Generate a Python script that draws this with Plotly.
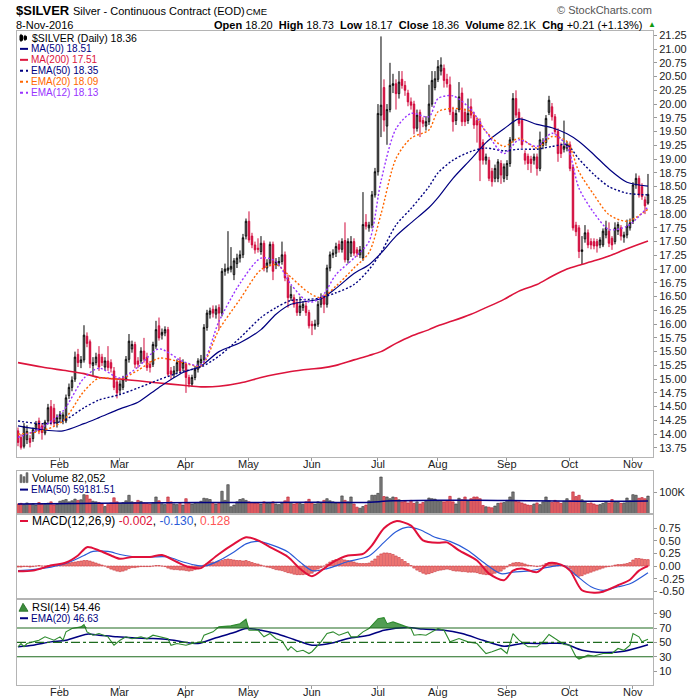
import pandas as pd
import plotly.graph_objects as go

# ---------------- data ----------------
holidays = ['2016-01-18', '2016-02-15', '2016-03-25', '2016-05-30', '2016-07-04', '2016-09-05']
dates = pd.bdate_range('2016-01-11', '2016-11-08', freq='C', holidays=holidays)

opens = [
    14.06, 13.94, 13.78, 13.90, 13.92, 13.92, 14.10, 14.24, 14.15, 14.02, 14.24, 14.50, 14.47, 14.20,  # Jan
    14.28, 14.25, 14.24, 14.70, 14.85, 15.00, 15.45, 15.30, 15.35, 15.78, 15.68, 15.25, 15.30, 15.45, 15.40, 15.22, 15.33, 15.30, 15.15, 14.95,  # Feb
    14.80, 14.85, 15.00, 15.36, 15.55, 15.63, 15.33, 15.33, 15.51, 15.40, 15.27, 15.27, 15.60, 15.97, 15.80, 15.84, 15.90, 15.15, 15.09, 15.15, 15.33, 15.20,  # Mar
    15.27, 15.03, 14.91, 15.03, 15.18, 15.30, 15.36, 15.94, 16.18, 16.27, 16.18, 16.30, 16.20, 16.96, 16.98, 17.00, 16.90, 17.10, 17.20, 17.26, 17.60,  # Apr
    17.87, 17.60, 17.44, 17.38, 17.32, 17.47, 17.02, 17.11, 17.45, 17.08, 17.11, 17.14, 17.26, 16.84, 16.48, 16.48, 16.39, 16.21, 16.30, 16.33, 16.21,  # May
    16.00, 15.97, 16.00, 16.36, 16.48, 16.36, 17.02, 17.26, 17.29, 17.45, 17.36, 17.52, 17.17, 17.29, 17.50, 17.35, 17.26, 17.20, 17.85, 17.75, 17.80, 18.35,  # Jun
    18.77, 19.80, 20.30, 19.60, 19.90, 20.34, 20.37, 20.19, 20.45, 20.34, 20.20, 20.04, 20.00, 19.56, 19.85, 19.70, 19.60, 19.68, 20.00, 20.30,  # Jul
    20.45, 20.60, 20.65, 20.45, 20.35, 19.85, 19.70, 19.90, 20.20, 19.85, 19.70, 19.95, 19.80, 19.70, 19.68, 19.30, 18.98, 18.98, 18.78, 18.65, 18.65, 18.92, 18.65,  # Aug
    18.70, 18.92, 19.35, 20.10, 19.85, 19.70, 19.10, 19.05, 19.00, 18.98, 19.04, 18.83, 19.25, 19.30, 19.85, 19.95, 19.77, 19.50, 19.25, 19.18, 19.20,  # Sep
    19.26, 18.85, 17.80, 17.75, 17.32, 17.55, 17.66, 17.50, 17.50, 17.50, 17.44, 17.44, 17.62, 17.69, 17.56, 17.50, 17.69, 17.75, 17.58, 17.62, 17.75,  # Oct
    17.87, 18.53, 18.65, 18.50, 18.26, 18.20,  # Nov
]
highs = [
    14.12, 14.00, 14.20, 14.16, 13.98, 14.12, 14.24, 14.30, 14.20, 14.26, 14.55, 14.62, 14.55, 14.36,
    14.42, 14.40, 14.72, 14.92, 15.05, 15.50, 15.55, 15.42, 15.98, 15.85, 15.72, 15.40, 15.48, 15.60, 15.46, 15.40, 15.60, 15.36, 15.22, 15.00,
    14.98, 15.06, 15.42, 15.82, 15.70, 15.68, 15.40, 15.58, 15.75, 15.48, 15.33, 15.68, 16.06, 16.12, 15.92, 15.96, 15.95, 15.22, 15.24, 15.36, 15.40, 15.36,
    15.30, 15.08, 15.08, 15.24, 15.38, 15.44, 16.00, 16.26, 16.30, 16.34, 16.34, 16.36, 17.02, 17.10, 17.69, 17.40, 17.20, 17.28, 17.34, 17.64, 17.92,
    18.05, 17.66, 17.50, 17.56, 17.60, 17.52, 17.18, 17.50, 17.50, 17.20, 17.22, 17.50, 17.32, 16.90, 16.70, 16.54, 16.45, 16.50, 16.42, 16.40, 16.26,
    16.06, 16.08, 16.42, 16.56, 16.54, 17.08, 17.32, 17.36, 17.48, 17.52, 17.56, 17.85, 17.56, 17.60, 17.56, 17.40, 17.42, 18.40, 18.00, 17.86, 18.42, 18.84,
    20.00, 21.23, 20.45, 20.00, 20.75, 20.55, 20.45, 20.60, 20.60, 20.42, 20.26, 20.12, 20.06, 19.90, 19.90, 19.76, 19.78, 20.35, 20.60, 20.60,
    20.80, 20.85, 20.72, 20.55, 20.50, 19.95, 19.90, 20.40, 20.30, 19.92, 20.10, 20.10, 19.86, 19.76, 19.74, 19.36, 19.10, 19.04, 18.84, 18.90, 19.00, 18.98, 18.92,
    18.98, 19.40, 20.20, 20.25, 19.92, 19.76, 19.16, 19.10, 19.06, 19.10, 19.10, 19.50, 19.38, 19.80, 20.15, 20.02, 19.82, 19.56, 19.30, 19.70, 19.32,
    19.32, 18.90, 17.86, 17.80, 17.60, 17.80, 17.72, 17.56, 17.56, 17.55, 17.58, 17.74, 17.88, 17.85, 17.60, 17.85, 17.86, 17.80, 17.68, 17.90, 17.92,
    18.58, 18.74, 18.70, 18.56, 18.32, 18.73,
]
lows = [
    13.78, 13.72, 13.74, 13.82, 13.76, 13.86, 14.04, 14.00, 13.90, 13.98, 14.18, 14.16, 14.15, 14.12,
    14.22, 14.18, 14.20, 14.64, 14.78, 14.95, 15.22, 15.20, 15.30, 15.58, 15.20, 15.05, 15.25, 15.15, 15.24, 15.16, 15.15, 15.12, 14.80, 14.65,
    14.72, 14.80, 14.95, 15.30, 15.48, 15.20, 15.20, 15.28, 15.30, 15.15, 15.12, 15.22, 15.55, 15.70, 15.72, 15.78, 15.05, 15.00, 15.02, 15.10, 15.10, 15.14,
    14.75, 14.85, 14.86, 14.98, 15.12, 15.24, 15.30, 15.88, 16.10, 16.12, 16.10, 15.90, 16.14, 16.88, 16.92, 16.94, 16.80, 17.02, 17.12, 17.20, 17.54,
    17.48, 17.38, 17.28, 17.30, 17.26, 16.96, 16.94, 17.05, 16.80, 17.00, 17.05, 17.08, 16.78, 16.30, 16.42, 16.30, 16.15, 16.15, 16.24, 16.15, 15.92,
    15.80, 15.90, 15.95, 16.30, 16.20, 16.30, 16.96, 17.20, 17.22, 17.30, 17.30, 17.12, 17.10, 17.22, 17.24, 17.22, 17.20, 17.15, 17.72, 17.68, 17.74, 18.30,
    18.70, 19.40, 19.50, 19.26, 19.85, 20.20, 19.90, 20.10, 20.28, 20.15, 19.96, 19.90, 19.45, 19.50, 19.40, 19.58, 19.52, 19.62, 19.95, 20.25,
    20.40, 20.52, 20.30, 20.30, 19.80, 19.50, 19.62, 19.85, 19.60, 19.60, 19.64, 19.74, 19.55, 19.30, 18.60, 18.90, 18.90, 18.60, 18.50, 18.58, 18.58, 18.55, 18.58,
    18.62, 18.86, 19.30, 19.75, 19.60, 19.20, 18.90, 18.80, 18.75, 18.90, 18.70, 18.78, 19.18, 19.24, 19.80, 19.70, 19.45, 18.95, 19.02, 19.12, 19.14,
    18.78, 17.70, 17.60, 17.20, 17.08, 17.48, 17.38, 17.36, 17.36, 17.30, 17.38, 17.40, 17.56, 17.40, 17.35, 17.45, 17.62, 17.52, 17.48, 17.56, 17.70,
    17.82, 18.46, 18.30, 18.26, 18.00, 18.17,
]
closes = [
    13.85, 13.76, 14.14, 14.05, 13.85, 14.08, 14.19, 14.06, 14.03, 14.22, 14.48, 14.22, 14.20, 14.30,
    14.36, 14.35, 14.66, 14.85, 14.98, 15.40, 15.30, 15.35, 15.80, 15.65, 15.28, 15.30, 15.40, 15.22, 15.30, 15.33, 15.21, 15.20, 14.85, 14.75,
    14.91, 15.00, 15.36, 15.69, 15.63, 15.27, 15.27, 15.51, 15.36, 15.21, 15.21, 15.63, 15.90, 15.75, 15.85, 15.90, 15.09, 15.09, 15.15, 15.30, 15.15, 15.30,
    15.03, 14.91, 15.03, 15.18, 15.33, 15.36, 15.94, 16.20, 16.24, 16.20, 16.27, 16.20, 16.96, 17.00, 17.02, 17.05, 17.15, 17.20, 17.26, 17.57, 17.87,
    17.53, 17.44, 17.35, 17.36, 17.47, 17.02, 17.11, 17.45, 16.96, 17.14, 17.14, 17.26, 16.84, 16.48, 16.54, 16.36, 16.21, 16.33, 16.36, 16.21, 15.97,
    15.97, 16.00, 16.36, 16.48, 16.36, 17.02, 17.26, 17.29, 17.41, 17.36, 17.50, 17.17, 17.50, 17.50, 17.29, 17.29, 17.35, 17.81, 17.78, 17.80, 18.35, 18.77,
    19.83, 19.98, 19.71, 19.90, 20.34, 20.37, 20.19, 20.40, 20.34, 20.25, 20.04, 19.98, 19.56, 19.80, 19.68, 19.65, 19.68, 20.00, 20.43, 20.46,
    20.68, 20.71, 20.43, 20.37, 19.86, 19.68, 19.83, 20.13, 19.68, 19.68, 19.83, 19.80, 19.62, 19.62, 18.98, 18.98, 19.04, 18.65, 18.59, 18.83, 18.95, 18.71, 18.86,
    18.92, 19.35, 20.10, 19.80, 19.65, 19.26, 18.98, 18.92, 18.92, 19.04, 18.83, 19.35, 19.30, 19.74, 20.07, 19.77, 19.50, 19.10, 19.10, 19.23, 19.26,
    18.83, 17.75, 17.68, 17.32, 17.35, 17.66, 17.44, 17.44, 17.42, 17.42, 17.53, 17.69, 17.75, 17.47, 17.44, 17.75, 17.81, 17.60, 17.62, 17.78, 17.84,
    18.53, 18.65, 18.35, 18.32, 18.15, 18.36,
]

# volume in thousands of contracts
volume_k = [
    45, 48, 42, 50, 44, 47, 40, 52, 46, 43, 49, 55, 41, 45,
    58, 62, 66, 55, 60, 68, 62, 65, 89, 86, 68, 58, 55, 52, 45, 33, 42, 50, 74, 55,
    48, 52, 60, 86, 55, 52, 62, 57, 50, 48, 45, 52, 78, 60, 46, 42, 78, 55, 45, 42, 48, 40,
    70, 50, 45, 48, 52, 58, 72, 70, 66, 48, 45, 50, 105, 62, 136, 32, 40, 55, 66, 70, 62,
    55, 52, 50, 48, 45, 55, 48, 50, 55, 45, 42, 50, 60, 78, 52, 45, 50, 48, 44, 55, 67,
    50, 45, 55, 48, 62, 70, 60, 55, 50, 48, 83, 62, 55, 78, 45, 30, 25, 33, 40, 60, 86, 86,
    95, 172, 80, 78, 70, 78, 75, 65, 55, 60, 50, 62, 48, 55, 45, 52, 58, 73, 70, 68,
    60, 58, 55, 60, 81, 55, 45, 72, 65, 78, 60, 70, 78, 78, 70, 38, 32, 30, 27, 35, 48, 50, 52,
    62, 78, 102, 58, 55, 50, 45, 40, 38, 45, 50, 42, 55, 78, 60, 52, 62, 55, 48, 58, 70,
    60, 102, 80, 86, 65, 55, 48, 50, 45, 40, 42, 48, 55, 50, 66, 52, 55, 48, 50, 73, 60,
    89, 86, 72, 75, 70, 82.052,
]
vema_idx = [0, 20, 40, 70, 100, 115, 125, 140, 160, 180, 200, 210]
vema_vals = [45000, 47000, 50000, 52000, 53000, 52000, 60000, 63000, 62000, 59000, 58000, 59181.51]

# moving averages on the price panel (sampled along the chart)
ma_idx = [0, 8, 15, 22, 27, 34, 40, 47, 55, 61, 67, 74, 81, 86, 91, 97, 101, 106, 112, 117,
          121, 126, 131, 137, 140, 145, 151, 156, 162, 167, 173, 178, 183, 187, 192, 197, 203, 210]
ma200 = [15.30, 15.22, 15.16, 15.10, 15.03, 15.00, 14.97, 14.93, 14.89, 14.86, 14.87, 14.93, 15.03, 15.09,
         15.14, 15.18, 15.20, 15.25, 15.35, 15.43, 15.50, 15.65, 15.78, 15.90, 15.97, 16.06, 16.18, 16.30,
         16.45, 16.60, 16.72, 16.87, 17.00, 17.07, 17.15, 17.24, 17.37, 17.51]
ma50 = [14.15, 14.08, 14.06, 14.19, 14.30, 14.46, 14.58, 14.85, 15.12, 15.24, 15.50, 15.66, 15.90, 16.18,
        16.36, 16.42, 16.46, 16.65, 16.92, 17.08, 17.29, 17.60, 17.84, 18.12, 18.30, 18.65, 19.00, 19.30,
        19.55, 19.73, 19.63, 19.57, 19.46, 19.32, 19.08, 18.82, 18.58, 18.51]
ema50 = [14.24, 14.19, 14.24, 14.48, 14.62, 14.72, 14.84, 14.99, 15.14, 15.22, 15.42, 15.75, 16.12, 16.30,
         16.43, 16.45, 16.48, 16.57, 16.72, 16.99, 17.30, 17.80, 18.10, 18.50, 18.75, 18.98, 19.14, 19.20,
         19.15, 19.18, 19.18, 19.23, 19.26, 19.00, 18.72, 18.50, 18.38, 18.35]
ema20 = [14.00, 14.06, 14.24, 14.78, 15.02, 15.00, 15.16, 15.38, 15.30, 15.24, 15.90, 16.45, 16.99, 17.08,
         16.85, 16.57, 16.48, 16.69, 17.02, 17.30, 18.00, 19.01, 19.38, 19.53, 19.86, 19.92, 19.86, 19.50,
         19.23, 19.38, 19.20, 19.41, 19.32, 18.77, 18.35, 17.99, 17.87, 18.09]
ema12 = [13.94, 14.12, 14.42, 15.02, 15.20, 15.02, 15.22, 15.55, 15.32, 15.26, 16.05, 16.74, 17.20, 17.14,
         16.72, 16.40, 16.48, 16.90, 17.20, 17.50, 18.60, 19.55, 19.83, 19.77, 20.10, 20.15, 19.90, 19.50,
         19.10, 19.35, 19.23, 19.47, 19.23, 18.47, 18.02, 17.72, 17.78, 18.13]

# MACD(12,26,9)
macd_idx = [0, 5, 11, 16, 20, 23, 27, 31, 34, 38, 44, 48, 53, 57, 61, 63, 67, 72, 76, 80, 84, 90, 94, 98, 102,
            105, 110, 115, 118, 122, 126, 131, 135, 140, 143, 147, 153, 157, 162, 165, 168, 173, 177, 181,
            184, 188, 192, 195, 200, 204, 207, 210]
macd_vals = [-0.105, -0.09, 0.01, 0.07, 0.21, 0.375, 0.31, 0.21, 0.145, 0.18, 0.18, 0.22, 0.08, -0.02, -0.04,
             0.05, 0.24, 0.44, 0.57, 0.51, 0.375, 0.18, -0.05, -0.2, -0.05, 0.08, 0.21, 0.24, 0.41, 0.75, 0.89,
             0.8, 0.51, 0.46, 0.47, 0.31, 0.11, -0.15, -0.28, -0.09, -0.05, -0.12, 0.06, 0.03, -0.09, -0.48,
             -0.53, -0.51, -0.38, -0.27, -0.09, -0.002]
sig_idx = [0, 5, 11, 16, 22, 25, 30, 34, 38, 44, 50, 55, 60, 63, 67, 72, 76, 80, 85, 90, 94, 98, 103, 110,
           117, 122, 126, 130, 134, 139, 144, 150, 155, 161, 165, 171, 177, 182, 186, 191, 195, 200, 204, 210]
sig_vals = [-0.09, -0.07, -0.02, 0.05, 0.21, 0.29, 0.29, 0.23, 0.19, 0.18, 0.18, 0.08, 0.01, 0.01, 0.11, 0.28,
            0.44, 0.49, 0.41, 0.28, 0.08, -0.09, -0.05, 0.09, 0.2, 0.47, 0.68, 0.77, 0.72, 0.57, 0.49, 0.31,
            0.08, -0.15, -0.12, -0.09, -0.02, 0.01, -0.18, -0.41, -0.48, -0.41, -0.35, -0.13]
hist = [
    -0.02, -0.02, -0.01, -0.01, -0.02, -0.01, 0.0, 0.01, 0.0, 0.0, 0.01, 0.02, 0.02, 0.02,
    0.03, 0.04, 0.05, 0.06, 0.07, 0.08, 0.09, 0.1, 0.11, 0.11, 0.1, 0.08, 0.06, 0.04, 0.02, 0.0, -0.03, -0.06, -0.08, -0.1,
    -0.11, -0.1, -0.08, -0.05, -0.03, -0.03, -0.02, -0.01, -0.01, -0.01, -0.01, 0.0, 0.01, 0.01, 0.0, -0.01, -0.04, -0.06, -0.07, -0.07, -0.08, -0.08,
    -0.09, -0.1, -0.09, -0.07, -0.05, -0.02, 0.02, 0.05, 0.07, 0.08, 0.08, 0.09, 0.11, 0.13, 0.14, 0.13, 0.12, 0.11, 0.11, 0.1, 0.11,
    0.09, 0.07, 0.05, 0.04, 0.02, 0.0, -0.02, -0.03, -0.05, -0.07, -0.08, -0.09, -0.11, -0.13, -0.14, -0.16, -0.17, -0.17, -0.17, -0.16, -0.16,
    -0.14, -0.1, -0.06, -0.03, 0.0, 0.04, 0.08, 0.11, 0.13, 0.13, 0.13, 0.12, 0.11, 0.1, 0.08, 0.06, 0.05, 0.05, 0.05, 0.06, 0.1, 0.14,
    0.2, 0.24, 0.26, 0.26, 0.25, 0.23, 0.2, 0.17, 0.13, 0.09, 0.05, 0.01, -0.04, -0.08, -0.11, -0.14, -0.16, -0.15, -0.13, -0.11,
    -0.09, -0.08, -0.07, -0.06, -0.07, -0.09, -0.1, -0.1, -0.11, -0.11, -0.12, -0.12, -0.12, -0.13, -0.15, -0.16, -0.17, -0.17, -0.16, -0.14, -0.12, -0.1, -0.06,
    -0.02, 0.03, 0.06, 0.07, 0.07, 0.06, 0.04, 0.02, 0.01, 0.0, -0.01, 0.0, 0.02, 0.05, 0.06, 0.06, 0.04, 0.03, 0.02, 0.01, 0.0,
    -0.05, -0.14, -0.18, -0.2, -0.19, -0.16, -0.14, -0.12, -0.1, -0.08, -0.06, -0.04, -0.02, -0.01, 0.0, 0.02, 0.03, 0.03, 0.04, 0.05, 0.07,
    0.12, 0.15, 0.15, 0.14, 0.13, 0.128,
]

# RSI(14) and its EMA(20)
rsi_idx = [0, 1, 2, 3, 5, 7, 9, 12, 14, 15, 16, 18, 21, 22, 23, 25, 27, 30, 32, 34,
           36, 38, 41, 43, 45, 47, 50, 51, 53, 56, 58, 61, 62, 65, 67, 71, 74, 76, 77, 80,
           82, 84, 86, 88, 90, 91, 93, 95, 97, 98, 101, 103, 105, 107, 110, 111, 113, 115, 117, 120,
           122, 123, 125, 128, 131, 132, 134, 136, 140, 142, 144, 147, 150, 153, 156, 158, 161, 163, 165, 167,
           170, 173, 175, 177, 180, 182, 184, 186, 187, 190, 192, 195, 198, 200, 202, 204, 205, 207, 208, 210]
rsi_vals = [43.8, 48.4, 44, 48.4, 50.7, 53, 57.7, 53, 57.7, 53, 64.6, 69.3, 71.6, 74.8, 64.6, 60, 62.3, 57.7, 46, 53,
            57.7, 55, 57.7, 55, 60, 57.7, 55, 46, 48.4, 46, 48.4, 50.7, 60, 64.6, 71.6, 73, 76, 82.2, 67, 67,
            57.7, 62.3, 55, 52, 39, 44, 37, 39, 34.5, 37, 50.7, 62.3, 64.6, 60, 64.6, 57.7, 57.7, 64.6, 69.3, 83,
            84.5, 76, 78.5, 74, 69.3, 60, 61, 60, 69.3, 67, 50.7, 55.4, 50.7, 48.4, 34.5, 37, 41.5, 34.5, 62.3, 53,
            43.8, 43.8, 50.7, 61, 53, 47, 46, 29.9, 26.7, 32.2, 31, 34.5, 34.5, 41.5, 39, 46, 62.3, 57.7, 50.7, 54.46]
rema_idx = [0, 5, 11, 16, 23, 27, 33, 38, 44, 50, 55, 60, 66, 72, 76, 81, 86, 92, 98, 105,
            110, 117, 122, 130, 135, 142, 148, 155, 162, 168, 175, 182, 188, 195, 202, 210]
rema_vals = [43.8, 46, 50.7, 53, 61.4, 60, 57.7, 56.3, 55.4, 54, 50.7, 48.4, 56.3, 63.7, 69.3, 67, 62.3, 54, 46, 49.5,
             55.4, 60, 67, 70.6, 68.5, 67, 62.3, 53, 44.7, 48.4, 48.4, 48.4, 39, 36, 37.7, 46.63]
rsi_levels = [30, 50, 70]

n = len(dates)
for arr in (opens, highs, lows, closes, volume_k, hist):
    assert len(arr) == n, (len(arr), n)

# ---------------- styling ----------------
W = H = 700
FONT = 'Liberation Sans'
RED = '#d10a3c'
NAVY = '#000080'
CRIMSON = '#dc143c'
ORANGE = '#ff6600'
PURPLE = '#9933ff'
GREEN = '#2e8b2e'
BORDER = '#b4b4b4'

def px(v):
    return v / W

def py(v):
    return 1 - v / H

x = list(range(n))
month_idx = [i for i in range(1, n) if dates[i].month != dates[i - 1].month]
month_txt = [dates[i].strftime('%b') for i in month_idx]
xr = [-0.33, n + 0.67]
xdom = [px(17), px(653)]

fig = go.Figure()

# price panel
fig.add_trace(go.Candlestick(
    x=x, open=opens, high=highs, low=lows, close=closes,
    increasing=dict(line=dict(color='black', width=1), fillcolor='white'),
    decreasing=dict(line=dict(color=RED, width=1), fillcolor=RED),
    whiskerwidth=0, xaxis='x', yaxis='y'))

ma_lines = [(ma200, CRIMSON, 'solid', 1.6), (ma50, NAVY, 'solid', 1.2),
            (ema50, NAVY, '2px,2px', 1.4), (ema20, ORANGE, '2px,2px', 1.4), (ema12, PURPLE, '2px,2px', 1.4)]
for vals, col, dash, w in ma_lines:
    fig.add_trace(go.Scatter(x=ma_idx, y=vals, mode='lines', xaxis='x', yaxis='y',
                             line=dict(color=col, dash=dash, width=w, shape='spline', smoothing=0.8)))

# volume panel
vol_col = ['#e46a6a' if c < o else '#808080' for o, c in zip(opens, closes)]
vol_edge = ['#b8102a' if c < o else '#303030' for o, c in zip(opens, closes)]
fig.add_trace(go.Bar(x=x, y=[v * 1000 for v in volume_k], xaxis='x2', yaxis='y2',
                     marker=dict(color=vol_col, line=dict(color=vol_edge, width=0.6))))
fig.add_trace(go.Scatter(x=vema_idx, y=vema_vals, mode='lines', xaxis='x2', yaxis='y2',
                         line=dict(color=NAVY, width=1.5, shape='spline')))

# MACD panel
fig.add_trace(go.Bar(x=x, y=hist, xaxis='x3', yaxis='y3',
                     marker=dict(color='#f4837d', line=dict(color='#c8323a', width=0.6))))
fig.add_trace(go.Scatter(x=sig_idx, y=sig_vals, mode='lines', xaxis='x3', yaxis='y3',
                         line=dict(color='#2a5bd7', width=1.2, shape='spline', smoothing=0.8)))
fig.add_trace(go.Scatter(x=macd_idx, y=macd_vals, mode='lines', xaxis='x3', yaxis='y3',
                         line=dict(color='#e0103a', width=2, shape='spline', smoothing=0.8)))

# RSI panel: shaded overbought / oversold zones
for lvl, clip in ((70, max), (30, min)):
    fig.add_trace(go.Scatter(x=rsi_idx, y=[lvl] * len(rsi_idx), mode='lines', xaxis='x4', yaxis='y4',
                             line=dict(width=0), hoverinfo='skip'))
    fig.add_trace(go.Scatter(x=rsi_idx, y=[clip(v, lvl) for v in rsi_vals], mode='lines',
                             xaxis='x4', yaxis='y4', fill='tonexty', fillcolor='rgba(52,140,52,0.85)',
                             line=dict(width=0), hoverinfo='skip'))
fig.add_trace(go.Scatter(x=rema_idx, y=rema_vals, mode='lines', xaxis='x4', yaxis='y4',
                         line=dict(color=NAVY, width=1.5, shape='spline', smoothing=0.8)))
fig.add_trace(go.Scatter(x=rsi_idx, y=rsi_vals, mode='lines', xaxis='x4', yaxis='y4',
                         line=dict(color=GREEN, width=1.1)))

shapes = []
for lvl in rsi_levels:
    shapes.append(dict(type='line', xref='x4', yref='y4', x0=xr[0], x1=xr[1], y0=lvl, y1=lvl,
                       line=dict(color='#1f6b1f', width=1.2, dash='dashdot' if lvl == 50 else 'solid')))

# ---------------- axes ----------------
base = dict(showline=True, mirror=True, linecolor=BORDER, linewidth=1, showgrid=False,
            zeroline=False, fixedrange=True)
xbase = dict(base, domain=xdom, range=xr, tickmode='array', tickvals=month_idx,
             ticks='outside', ticklen=3, tickcolor='#999', showticklabels=False)
ybase = dict(base, side='right', ticks='outside', ticklen=3, tickcolor='#999',
             tickfont=dict(size=11, color='#222'))

price_ticks = [13.75 + 0.25 * k for k in range(31)]
fig.update_layout(
    xaxis=dict(xbase, anchor='y', rangeslider=dict(visible=False)),
    xaxis2=dict(xbase, anchor='y2', ticks=''),
    xaxis3=dict(xbase, anchor='y3', ticks=''),
    xaxis4=dict(xbase, anchor='y4'),
    yaxis=dict(ybase, anchor='x', domain=[py(456), py(29)], range=[13.59, 21.33],
               tickvals=price_ticks, ticktext=['%.2f' % t for t in price_ticks]),
    yaxis2=dict(ybase, anchor='x2', domain=[py(513), py(470)], range=[0, 202000],
                tickvals=[100000], ticktext=['100K']),
    yaxis3=dict(ybase, anchor='x3', domain=[py(599), py(513)], range=[-0.658, 1.041],
                tickvals=[-0.5, -0.25, 0, 0.25, 0.5, 0.75],
                ticktext=['-0.50', '-0.25', '0.00', '0.25', '0.50', '0.75']),
    yaxis4=dict(ybase, anchor='x4', domain=[py(685), py(599)], range=[-9.44, 110],
                tickvals=[10, 30, 50, 70, 90]),
)

# ---------------- texts ----------------
def ann(text, x0, y0, size=11, color='#222', xanchor='left'):
    return dict(text=text, x=px(x0), y=py(y0), xref='paper', yref='paper', xanchor=xanchor,
                yanchor='middle', showarrow=False, font=dict(family=FONT, size=size, color=color))

def swatch(y0, color, dash='solid', width=2):
    return dict(type='line', xref='paper', yref='paper', x0=px(20), x1=px(28), y0=py(y0), y1=py(y0),
                line=dict(color=color, width=width, dash=dash))

annotations = [
    ann('<b>$SILVER</b>', 14, 9, size=13, color='black'),
    ann('Silver - Continuous Contract (EOD)', 71, 9.5, size=11, color='black'),
    ann('CME', 244, 10, size=9.5, color='black'),
    ann('8-Nov-2016', 14, 23, size=11, color='black'),
    ann('<b>Open</b> %.2f  <b>High</b> %.2f  <b>Low</b> %.2f  <b>Close</b> %.2f  <b>Volume</b> 82.1K  '
        '<b>Chg</b> +0.21 (+1.13%%)' % (opens[-1], highs[-1], lows[-1], closes[-1]),
        644, 23, size=11, color='black', xanchor='right'),
    ann('▲', 646, 23, size=8, color='#109a10'),
    ann('© StockCharts.com', 654, 8, size=11, color='#555', xanchor='right'),
    ann('$SILVER (Daily) %.2f' % closes[-1], 30, 36, size=10.5, color='black'),
    ann('MA(50) %.2f' % ma50[-1], 29, 47, size=10, color=NAVY),
    ann('MA(200) %.2f' % ma200[-1], 29, 58, size=10, color=CRIMSON),
    ann('EMA(50) %.2f' % ema50[-1], 29, 69, size=10, color=NAVY),
    ann('EMA(20) %.2f' % ema20[-1], 29, 80, size=10, color=ORANGE),
    ann('EMA(12) %.2f' % ema12[-1], 29, 91, size=10, color=PURPLE),
    ann('Volume {:,.0f}'.format(volume_k[-1] * 1000), 30, 477.5, size=11, color='black'),
    ann('EMA(50) %.2f' % vema_vals[-1], 29, 489, size=10, color=NAVY),
    ann('MACD(12,26,9) <span style="color:#e0103a">%.3f</span>, <span style="color:#2a5bd7">%.3f</span>, '
        '<span style="color:#ff5555">%.3f</span>' % (macd_vals[-1], sig_vals[-1], hist[-1]),
        30, 520.5, size=12, color='black'),
    ann('RSI(14) %.2f' % rsi_vals[-1], 30, 606.5, size=11, color='black'),
    ann('EMA(20) %.2f' % rema_vals[-1], 29, 618, size=10, color=NAVY),
]
# month labels under the price panel and under the RSI panel
for i, m in zip(month_idx, month_txt):
    for yy in (463.5, 692):
        annotations.append(dict(text=m, x=i, y=py(yy), xref='x', yref='paper', xanchor='center',
                                yanchor='middle', showarrow=False,
                                font=dict(family=FONT, size=11, color='#222')))

shapes += [
    swatch(47, NAVY), swatch(58, CRIMSON), swatch(69, NAVY, 'dot'), swatch(80, ORANGE, 'dot'),
    swatch(91, PURPLE, 'dot'), swatch(489, NAVY), swatch(520.5, '#e0103a'), swatch(618, NAVY),
]
# small legend icons: candles, volume bars, RSI area
for x0, y0, y1, col in ((20, 32, 40, 'black'), (24, 33, 39, 'black')):
    shapes.append(dict(type='line', xref='paper', yref='paper', x0=px(x0 + 1), x1=px(x0 + 1),
                       y0=py(y1), y1=py(y0), line=dict(color=col, width=1)))
    shapes.append(dict(type='rect', xref='paper', yref='paper', x0=px(x0), x1=px(x0 + 2.5),
                       y0=py(y1 - 1.5), y1=py(y0 + 1.5), line=dict(color=col, width=1), fillcolor=col))
for x0, top in ((20, 474), (23, 476), (26, 472)):
    shapes.append(dict(type='rect', xref='paper', yref='paper', x0=px(x0), x1=px(x0 + 2),
                       y0=py(482), y1=py(top), line=dict(color='#444', width=0.5), fillcolor='#777'))
shapes.append(dict(type='path', xref='paper', yref='paper',
                   path='M %f %f L %f %f L %f %f L %f %f Z' % (px(19), py(611), px(23), py(603),
                                                             px(25), py(606), px(28), py(611)),
                   fillcolor='#3c8c3c', line=dict(color='#1f6b1f', width=0.8)))

fig.update_layout(
    width=W, height=H, margin=dict(l=0, r=0, t=0, b=0),
    paper_bgcolor='white', plot_bgcolor='white', showlegend=False, bargap=0.2,
    font=dict(family=FONT, size=11, color='#222'),
    annotations=annotations, shapes=shapes,
)

fig.write_html('out.html', config={'displayModeBar': False},
               post_script="document.body.style.margin='0';document.body.style.overflow='hidden';")
